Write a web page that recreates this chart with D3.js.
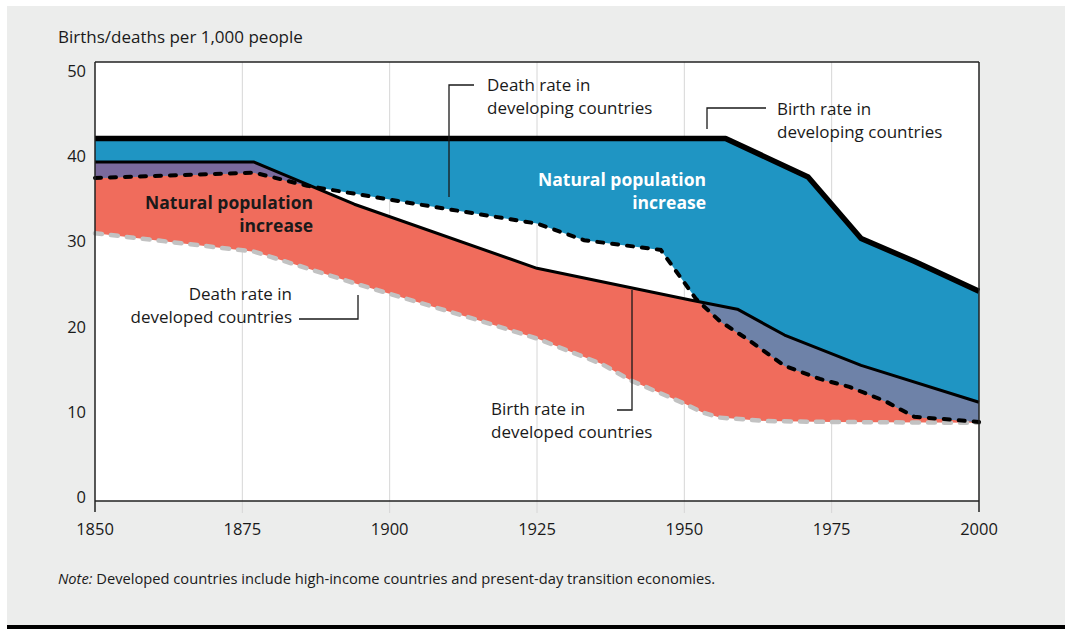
<!DOCTYPE html>
<html>
<head>
<meta charset="utf-8">
<script src="https://cdn.jsdelivr.net/npm/d3@7"></script>
<style>
  html, body { margin: 0; padding: 0; background: #fff; }
  svg { display: block; font-family: "Open Sans", "Noto Sans", sans-serif; }
</style>
</head>
<body>
<svg id="chart" width="1065" height="629"></svg>
<script>
// series
const birthDevelopingYears = [1850, 1957, 1971, 1980, 1989, 2000];
const birthDevelopingRates = [41.3, 41.3, 36.9, 29.9, 27.3, 23.9];

const deathDevelopingYears = [1850, 1877, 1886, 1902, 1925, 1933, 1946, 1952, 1956, 1961, 1967, 1973, 1978, 1984, 1989, 2000];
const deathDevelopingRates = [36.8, 37.4, 35.9, 34.1, 31.6, 29.7, 28.6, 23.0, 20.5, 18.3, 15.4, 13.9, 13.0, 11.4, 9.6, 9.0];

const birthDevelopedYears = [1850, 1877, 1894, 1925, 1951, 1959, 1967, 1980, 2000];
const birthDevelopedRates = [38.6, 38.6, 33.8, 26.5, 22.9, 21.85, 18.9, 15.45, 11.25];

const deathDevelopedYears = [1850, 1877, 1895, 1915, 1925, 1936, 1941, 1950, 1953, 1956, 1964, 1975, 2000];
const deathDevelopedRates = [30.5, 28.4, 24.6, 20.6, 18.5, 15.6, 13.7, 11.1, 10.1, 9.5, 9.1, 9.0, 8.9];

const xTicks = [1850, 1875, 1900, 1925, 1950, 1975, 2000];
const yTicks = [0, 10, 20, 30, 40, 50];

const svg = d3.select('#chart');

// page background
svg.append('rect').attr('x', 7).attr('y', 6).attr('width', 1058).attr('height', 620).attr('fill', '#ecedec');
svg.append('rect').attr('x', 7).attr('y', 625).attr('width', 1058).attr('height', 4).attr('fill', '#000');

const x = d3.scaleLinear().domain([1850, 2000]).range([95, 979]);
const y = d3.scaleLinear().domain([0, 50]).range([501, 62]);
const yLabel = d3.scaleLinear().domain([0, 50]).range([497, 71]); // labels sit a little off the ticks

const zip = (ys, vs) => ys.map((yr, i) => ({ year: yr, v: vs[i] }));
const birthDev = zip(birthDevelopingYears, birthDevelopingRates);
const deathDev = zip(deathDevelopingYears, deathDevelopingRates);
const birthDvd = zip(birthDevelopedYears, birthDevelopedRates);
const deathDvd = zip(deathDevelopedYears, deathDevelopedRates);

// plot frame
svg.append('rect').attr('x', x(1850)).attr('y', y(50)).attr('width', x(2000) - x(1850)).attr('height', y(0) - y(50)).attr('fill', '#fff');

// grid
svg.append('g').selectAll('line')
  .data(xTicks.slice(1, -1))
  .join('line')
  .attr('x1', d => x(d)).attr('x2', d => x(d))
  .attr('y1', y(50)).attr('y2', y(0) + 12)
  .attr('stroke', '#d6d6d6').attr('stroke-width', 1);

// a closed band: top series forward, bottom series back
const line = d3.line().x(d => x(d.year)).y(d => y(d.v));
const band = (top, bottom) => line(top) + 'L' + line(bottom.slice().reverse()).slice(1) + 'Z';

const defs = svg.append('defs');
const grad = defs.append('linearGradient').attr('id', 'overlap')
  .attr('gradientUnits', 'userSpaceOnUse')
  .attr('x1', x(1850)).attr('x2', x(2000)).attr('y1', 0).attr('y2', 0);
grad.append('stop').attr('offset', 0.45).attr('stop-color', '#7a6a9c');
grad.append('stop').attr('offset', 0.46).attr('stop-color', '#6e82a8');

defs.append('clipPath').attr('id', 'redClip')
  .append('path').attr('d', band(birthDvd, deathDvd));

// areas
svg.append('path').attr('d', band(birthDvd, deathDvd)).attr('fill', '#f06c5c');
svg.append('path').attr('d', band(birthDev, deathDev)).attr('fill', '#1f95c3');
svg.append('path').attr('d', band(birthDev, deathDev)).attr('fill', 'url(#overlap)').attr('clip-path', 'url(#redClip)');

// lines
svg.append('path').attr('d', line(deathDvd)).attr('fill', 'none')
  .attr('stroke', '#c2c2c2').attr('stroke-width', 4.5).attr('stroke-linecap', 'round').attr('stroke-dasharray', '7,9');
svg.append('path').attr('d', line(birthDvd)).attr('fill', 'none')
  .attr('stroke', '#000').attr('stroke-width', 3).attr('stroke-linejoin', 'round');
svg.append('path').attr('d', line(deathDev)).attr('fill', 'none')
  .attr('stroke', '#000').attr('stroke-width', 4).attr('stroke-linecap', 'round').attr('stroke-dasharray', '6,9');
svg.append('path').attr('d', line(birthDev)).attr('fill', 'none')
  .attr('stroke', '#000').attr('stroke-width', 5.5).attr('stroke-linejoin', 'round');

// frame lines
const frame = svg.append('g').attr('stroke', '#222').attr('fill', 'none');
frame.append('line').attr('x1', x(1850)).attr('x2', x(2000)).attr('y1', y(50)).attr('y2', y(50)).attr('stroke-width', 1.5);
frame.append('line').attr('x1', x(1850)).attr('x2', x(2000)).attr('y1', y(0)).attr('y2', y(0)).attr('stroke-width', 1.5);
frame.append('line').attr('x1', x(1850)).attr('x2', x(1850)).attr('y1', y(50)).attr('y2', y(0) + 11).attr('stroke-width', 1.5);
frame.append('line').attr('x1', x(2000)).attr('x2', x(2000)).attr('y1', y(50)).attr('y2', y(0) + 11).attr('stroke-width', 1.5);

// tick labels
svg.append('g').selectAll('text')
  .data(yTicks)
  .join('text')
  .attr('x', 86).attr('y', d => yLabel(d))
  .attr('dy', '0.36em')
  .attr('text-anchor', 'end')
  .attr('font-size', 16.5).attr('fill', '#1a1a1a')
  .text(d => d);

svg.append('g').selectAll('text')
  .data(xTicks)
  .join('text')
  .attr('x', d => x(d)).attr('y', 535)
  .attr('text-anchor', 'middle')
  .attr('font-size', 16.5).attr('fill', '#1a1a1a')
  .text(d => d);

svg.append('text').attr('x', 58).attr('y', 43).attr('font-size', 17).attr('fill', '#1a1a1a')
  .text('Births/deaths per 1,000 people');

// annotations
function label(lines, tx, ty, anchor, opts = {}) {
  const t = svg.append('text')
    .attr('x', tx).attr('y', ty)
    .attr('text-anchor', anchor)
    .attr('font-size', opts.size || 17)
    .attr('font-weight', opts.weight || 'normal')
    .attr('fill', opts.color || '#1a1a1a');
  lines.forEach((s, i) => t.append('tspan').attr('x', tx).attr('dy', i ? (opts.lh || 22.5) : 0).text(s));
}
function leader(pts) {
  svg.append('polyline').attr('points', pts.map(p => p.join(',')).join(' '))
    .attr('fill', 'none').attr('stroke', '#1a1a1a').attr('stroke-width', 1.3);
}

label(['Death rate in', 'developing countries'], 487, 91, 'start');
leader([[474, 85], [449, 85], [449, 197]]);

label(['Birth rate in', 'developing countries'], 777, 115, 'start');
leader([[766, 108], [707, 108], [707, 129]]);

label(['Death rate in', 'developed countries'], 292, 300, 'end');
leader([[299, 319], [358, 319], [358, 295]]);

label(['Birth rate in', 'developed countries'], 491, 415, 'start');
leader([[617, 410], [632, 410], [632, 290]]);

label(['Natural population', 'increase'], 313, 209, 'end', { weight: 'bold', size: 17.5, lh: 23 });
label(['Natural population', 'increase'], 706, 186, 'end', { weight: 'bold', size: 17.5, lh: 23, color: '#fff' });

// note
const note = svg.append('text').attr('x', 58).attr('y', 584).attr('font-size', 14.7).attr('fill', '#1a1a1a');
note.append('tspan').attr('font-style', 'italic').text('Note:');
note.append('tspan').text(' Developed countries include high-income countries and present-day transition economies.');
</script>
</body>
</html>
